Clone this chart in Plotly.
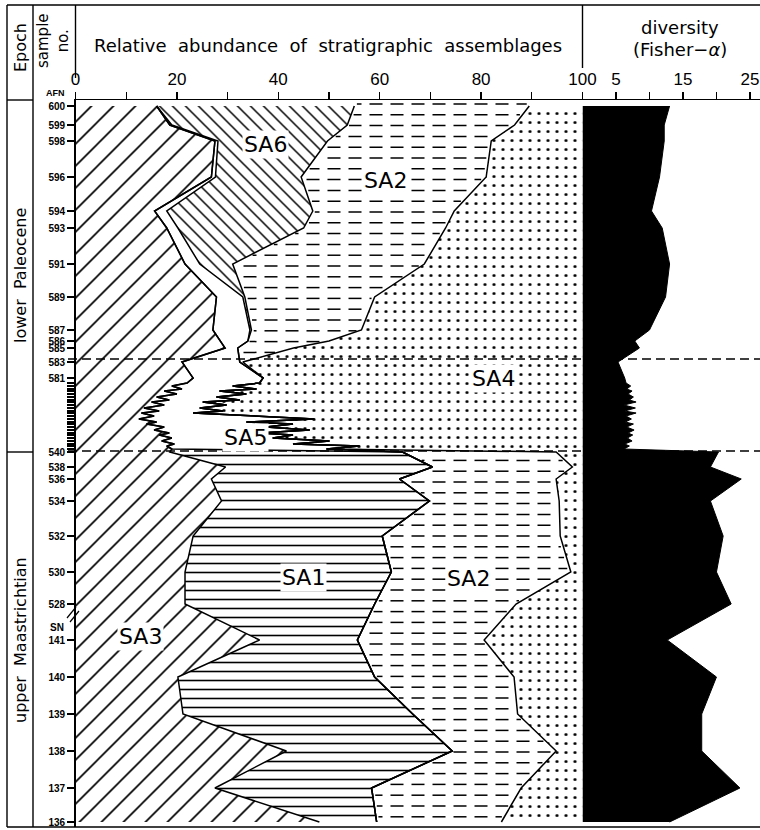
import plotly.graph_objects as go
import numpy as np

# ---------------- data ----------------
sample_labels = ["600", "599", "598", "596", "594", "593", "591", "589", "587", "586", "585", "583", "581",
                 "", "", "", "", "", "", "", "", "", "", "", "", "", "", "", "", "", "", "", "", "", "", "", "", "",
                 "540", "538", "536", "534", "532", "530", "528", "141", "140", "139", "138", "137", "136"]
strat_pos = [6, 25, 41, 77, 111, 128, 164, 197, 230, 241, 248, 262, 278,
             283, 286, 289, 291, 294, 297, 300, 302, 305, 308, 311, 313, 316, 319, 322, 324, 327, 330, 333, 335,
             338, 341, 344, 346, 349,
             352, 367, 379, 401, 436, 472, 504, 540, 577, 614, 651, 688, 722]

sa3 = [16.0, 18.6, 27.5, 26.8, 15.6, 18.0, 21.6, 27.8, 27.1, 28.5, 29.5, 21.0, 23.2,
       22, 19, 21, 17.5, 20, 16, 18.5, 15, 17.5, 13.5, 16.5, 13, 15.5, 12.5, 16, 14, 17.5, 15.5, 18.5, 16.5,
       19, 17, 19.5, 18, 19,
       18.6, 29.6, 26.8, 28.8, 23.2, 21.6, 21.6, 36.3, 20.2, 21.2, 41.6, 27.5, 48.1]
sa1 = [0] * 13 + [0] * 25 + [45.9, 40.8, 37.1, 41.0, 37.3, 40.7, 37.4, 19.3, 38.8, 45.3, 32.7, 30.9, 11.3]
sa5 = [0, 0.4, 0.6, 0.8, 2.4, 2.2, 2.9, 5.2, 7.3, 5.5, 2.5, 11.4, 13.8,
       14.3, 12.0, 14.7, 10.9, 13.7, 11.8, 13.9, 10.1, 12.3, 11.0, 12.6, 10.2, 20.8, 34.6, 17.7, 28.9, 20.1,
       30.7, 17.8, 26.4, 19.9, 33.1, 23.4, 38.0, 30.5] + [0] * 13
sa6 = [39.0, 34.6, 21.6, 16.9, 28.8, 24.8, 6.5, 0.4, 0.3, 0, 0, 0, 0] + [0] * 25 + [0] * 13
sa2 = [34.5, 33.0, 32.3, 36.5, 27.9, 28.0, 37.8, 25.6, 21.7, 16.0, 11.0, 0.6, 0] + [0] * 25 + \
      [30.3, 27.6, 30.9, 25.6, 35.1, 35.4, 27.9, 25.0, 27.5, 20.7, 20.5, 29.5, 24.6]
sa4 = [10.5, 13.4, 18.0, 19.0, 25.3, 27.0, 31.2, 41.0, 43.6, 50.0, 57.0, 67.0, 63.0,
       63.7, 69.0, 64.3, 71.6, 66.3, 72.2, 67.6, 74.9, 70.2, 75.5, 70.9, 76.8, 63.7, 52.9, 66.3, 57.1, 62.4,
       53.8, 63.7, 57.1, 61.1, 49.9, 57.1, 44.0, 50.5,
       5.2, 2.0, 5.2, 4.6, 4.4, 2.3, 13.1, 19.4, 13.5, 12.8, 5.2, 12.1, 16.0]
fisher_alpha = [13.0, 12.2, 12.2, 11.5, 10.3, 11.9, 13.0, 12.4, 10.0, 7.8, 8.5, 5.3, 6.3,
                6.5, 7.2, 6.6, 7.4, 6.8, 7.6, 7.0, 8.0, 6.2, 7.9, 6.3, 8.0, 6.5, 7.3, 6.4, 7.6, 6.6, 7.7, 6.8,
                7.5, 6.7, 7.4, 6.3, 7.0, 6.2,
                20.3, 19.1, 23.7, 19.1, 21.0, 20.0, 22.2, 12.65, 20.0, 17.8, 17.8, 23.5, 13.0]
zone_boundaries = [259, 351]
x_ticks_main = [0, 10, 20, 30, 40, 50, 60, 70, 80, 90, 100]
x_ticklabels_main = ["0", "", "20", "", "40", "", "60", "", "80", "", "100"]
x_ticks_div = [5, 10, 15, 20, 25]
x_ticklabels_div = ["5", "", "15", "", "25"]

# ---------------- figure ----------------
W, H = 760, 830
def px(x): return x / W
def py(y): return 1 - y / H

comps = np.array([sa3, sa1, sa5, sa6, sa2, sa4], dtype=float)
cum = np.cumsum(comps, axis=0)
R2 = np.sqrt(2.0)

fig = go.Figure()
def area(xv, fill, pattern=None, fillcolor="white"):
    kw = dict(x=xv, y=strat_pos, mode="lines", line=dict(width=0, color="black"),
              fill=fill, fillcolor=fillcolor, hoverinfo="skip", showlegend=False)
    if pattern is not None:
        kw["fillpattern"] = pattern
    fig.add_trace(go.Scatter(**kw))

def pat(shape, size, lw_frac):
    return dict(shape=shape, size=size, solidity=lw_frac, fgcolor="black", bgcolor="white",
                fgopacity=1, fillmode="replace")

area(cum[0], "tozerox", pat("/", 22 / R2, 1.7 / (22 / R2)))
area(cum[1], "tonextx", pat("-", 9, 1.6 / 9))
area(cum[2], "tonextx", None, "white")
area(cum[3], "tonextx", pat("\\", 13 / R2, 1.5 / (13 / R2)))
area(cum[4], "tonextx", None, "white")
area(cum[5], "tonextx", pat(".", 9, 0.09))

# dashed texture of SA2: rows of short dashes between the SA2 boundaries
row_step, dash_len, dash_period = 10.8, 13 / 5.07, 21 / 5.07
hx, hy = [], []
for yr in np.arange(4.0, 727, row_step):
    lo = np.interp(yr, strat_pos, cum[3])
    hi = np.interp(yr, strat_pos, cum[4])
    if hi - lo < 1.2:
        continue
    for xs in np.arange(0, 100, dash_period):
        a, b = max(xs, lo + 0.5), min(xs + dash_len, hi - 0.5)
        if b - a > 0.4:
            hx += [a, b, None]
            hy += [yr, yr, None]
fig.add_trace(go.Scatter(x=hx, y=hy, mode="lines", line=dict(color="black", width=1.5),
                         hoverinfo="skip", showlegend=False, connectgaps=False))

for k in range(5):
    fig.add_trace(go.Scatter(x=cum[k], y=strat_pos, mode="lines",
                             line=dict(color="black", width=1.5), hoverinfo="skip", showlegend=False))

fig.add_trace(go.Scatter(x=fisher_alpha, y=strat_pos, xaxis="x2", yaxis="y", mode="lines",
                         fill="tozerox", fillcolor="black", line=dict(color="black", width=1),
                         hoverinfo="skip", showlegend=False))

tickfont = dict(family="Liberation Sans", size=17, color="black")
fig.update_layout(
    template="none",
    width=W, height=H, autosize=False, margin=dict(l=0, r=0, t=0, b=0, pad=0),
    paper_bgcolor="white", plot_bgcolor="white", showlegend=False,
    xaxis=dict(domain=[px(75.5), px(582.5)], range=[0, 100], side="top", anchor="y", automargin=False,
               showline=True, linecolor="black", linewidth=1.4, ticks="outside", ticklen=7,
               tickcolor="black", tickwidth=1.3, tickvals=x_ticks_main, ticktext=x_ticklabels_main,
               tickfont=tickfont, showgrid=False, zeroline=False, fixedrange=True,
               ticklabeloverflow="allow"),
    xaxis2=dict(domain=[px(582.5), 1.0], range=[0, 26.5], side="top", anchor="y", automargin=False,
                showline=True, linecolor="black", linewidth=1.4, ticks="outside", ticklen=7,
                tickcolor="black", tickwidth=1.3, tickvals=x_ticks_div, ticktext=x_ticklabels_div,
                tickfont=tickfont, showgrid=False, zeroline=False, ticklabeloverflow="allow"),
    yaxis=dict(domain=[py(827), py(100)], range=[727, 0], anchor="x", automargin=False,
               showline=True, linecolor="black", linewidth=1.4, ticks="outside", ticklen=7,
               tickcolor="black", tickwidth=1.2, tickvals=strat_pos, ticktext=sample_labels,
               tickfont=dict(family="Liberation Sans", size=10, color="black", weight="bold"),
               showgrid=False, zeroline=False, ticklabeloverflow="allow"),
)

shapes = []
def seg(x0, y0, x1, y1, w=1.4):
    shapes.append(dict(type="line", xref="paper", yref="paper", x0=px(x0), y0=py(y0), x1=px(x1),
                       y1=py(y1), line=dict(color="black", width=w)))

seg(7, 5, 760, 5)
seg(7, 5, 7, 827)
seg(7, 827, 760, 827)
seg(33, 5, 33, 827)
seg(75.5, 5, 75.5, 78)
seg(582.5, 5, 582.5, 68)
seg(7, 100, 33, 100)
seg(7, 452, 33, 452)
seg(67, 618, 76, 607, 1.2)
seg(70, 622, 79, 611, 1.2)
for zb in zone_boundaries:
    shapes.append(dict(type="line", xref="paper", yref="y", x0=px(68), x1=1.0, y0=zb, y1=zb,
                       line=dict(color="black", width=1.4, dash="9px,5px")))
fig.update_layout(shapes=shapes)

ann = []
def text(x, y, t, size, angle=0, family="DejaVu Sans", xanchor="center", bold=False, bg=None):
    d = dict(x=px(x), y=py(y), xref="paper", yref="paper", text=t, showarrow=False,
             textangle=angle, xanchor=xanchor, yanchor="middle",
             font=dict(family=family, size=size, color="black", weight="bold" if bold else "normal"))
    if bg:
        d["bgcolor"] = bg
        d["borderpad"] = 1
    ann.append(d)

text(20, 48, "Epoch", 16, -90)
text(53, 40, "sample<br>no.", 15, -90)
text(328, 45, "Relative  abundance  of  stratigraphic  assemblages", 18)
text(680, 27, "diversity", 18)
text(680, 50, "(Fisher−<i>α</i>)", 18)
text(20, 276, "lower  Paleocene", 16, -90)
text(20, 640, "upper  Maastrichtian", 16, -90)
text(67, 93, "AFN", 9, family="Liberation Sans", xanchor="right", bold=True)
text(66, 627, "SN", 10, family="Liberation Sans", xanchor="right", bold=True)

labels = [(265, 145, "SA6"), (385, 180, "SA2"), (493, 378, "SA4"), (245, 437, "SA5"),
          (303, 577, "SA1"), (468, 578, "SA2"), (140, 636, "SA3")]
for lx, ly, lt in labels:
    text(lx, ly, lt, 22, bg="white")
fig.update_layout(annotations=ann)

fig.write_html(
    "out.html",
    config={"staticPlot": True, "displayModeBar": False, "responsive": False},
    post_script=("document.documentElement.style.margin='0px';"
                 "document.documentElement.style.overflow='hidden';"
                 "document.body.style.margin='0px';"
                 "document.body.style.overflow='hidden';"),
)
